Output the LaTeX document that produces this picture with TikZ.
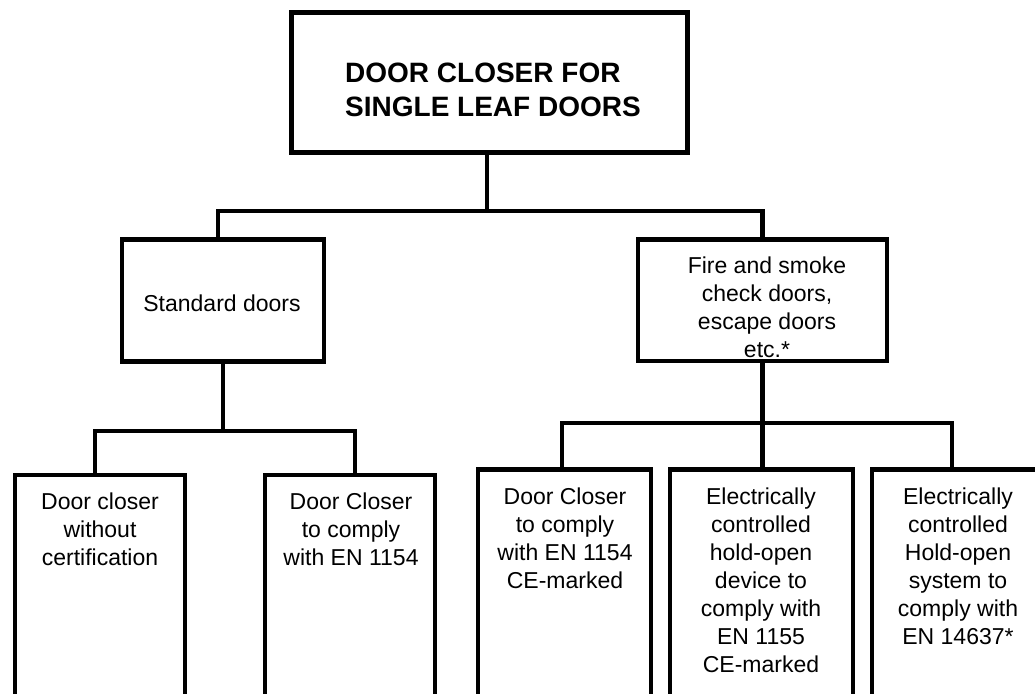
\documentclass[tikz,border=0pt]{standalone}
\usepackage{fontspec}
\setmainfont{Liberation Sans}
\begin{document}
\begin{tikzpicture}[x=1pt,y=-1pt,
  box/.style={draw=black, line width=4.5pt, inner sep=0pt, line join=miter},
  conn/.style={draw=black, line width=4.5pt, line join=miter},
  txt/.style={inner sep=0pt, align=center, anchor=north, font=\fontsize{23}{28}\selectfont},
  ttl/.style={inner sep=0pt, align=left, anchor=north west, font=\fontsize{28}{34}\selectfont\bfseries}]
\useasboundingbox (0,0) rectangle (1035,693);
\clip (0,0) rectangle (1035,693);
\fill[white] (0,0) rectangle (1035,693);

% boxes
\node[box, minimum width=396pt, minimum height=140pt] (top) at (489.5,82.5) {};
\node[box, minimum width=202pt, minimum height=122pt] (std) at (223,300.5) {};
\node[box, minimum width=249pt, minimum height=121.5pt] (fire) at (762.5,300.25) {};
\node[box, minimum width=170pt, minimum height=325pt] (b1) at (100,637.5) {};
\node[box, minimum width=170pt, minimum height=325pt] (b2) at (350,637.5) {};
\node[box, minimum width=173pt, minimum height=330pt] (b3) at (564.5,634.5) {};
\node[box, minimum width=183pt, minimum height=330pt] (b4) at (761.5,634.5) {};
\node[box, minimum width=328pt, minimum height=330pt] (b5) at (1036,634.5) {};

% bus coordinates
\coordinate (busT) at (487,211);
\coordinate (stdIn) at (218,211);
\coordinate (c1) at (95,431);
\coordinate (c2) at (355,431);
\coordinate (c3) at (562,423);
\coordinate (c5) at (952,423);

% connectors
\draw[conn] (top.south -| busT) -- (busT);
\draw[conn] (std.north -| stdIn) -- (stdIn) -- (busT) -| (fire.north);
\draw[conn] (std.south) -- (std.south |- c1);
\draw[conn] (b1.north -| c1) |- (c2) -- (b2.north -| c2);
\draw[conn] (fire.south) -- (fire.south |- b4.north);
\draw[conn] (b3.north -| c3) |- (c5) -- (b5.north -| c5);

% texts
\node[ttl] (ttop) at (345,63) {DOOR CLOSER FOR\\SINGLE LEAF DOORS};
\node[txt] (tstd) at (222,294.3) {Standard doors};
\node[txt] (tfire) at (767,256.3) {Fire and smoke\\check doors,\\escape doors\\etc.*};
\node[txt] (t1) at (100,492.3) {Door closer\\without\\certification};
\node[txt] (t2) at (351,492.3) {Door Closer\\to comply\\with EN 1154};
\node[txt] (t3) at (565,487.3) {Door Closer\\to comply\\with EN 1154\\CE-marked};
\node[txt] (t4) at (761,487.3) {Electrically\\controlled\\hold-open\\device to\\comply with\\EN 1155\\CE-marked};
\node[txt] (t5) at (958,487.3) {Electrically\\controlled\\Hold-open\\system to\\comply with\\EN 14637*};
\end{tikzpicture}
\end{document}
